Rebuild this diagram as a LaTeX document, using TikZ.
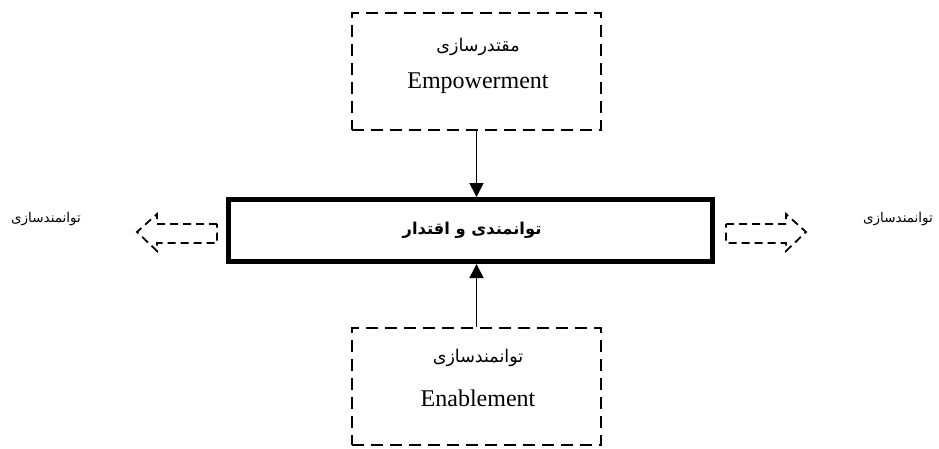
\documentclass[tikz,border=0pt]{standalone}
\usepackage{fontspec}
\setmainfont{Liberation Serif}
\newfontfamily\fa[Script=Arabic]{DejaVu Sans}
\TeXXeTstate=1
\usetikzlibrary{arrows.meta}
\begin{document}
\begin{tikzpicture}[x=1pt,y=-1pt,
  dbox/.style={draw, line width=2pt, dash pattern=on 12pt off 7pt, minimum width=249pt, minimum height=117pt, inner sep=0pt},
  mainbox/.style={draw, line width=5pt, minimum width=484pt, minimum height=62pt, inner sep=0pt},
  fatxt/.style={font=\fa\fontsize{17.5}{20}\selectfont, inner sep=0pt},
  sidetxt/.style={font=\fa\fontsize{13.5}{16}\selectfont, inner sep=0pt},
  entxt/.style={font=\fontsize{24}{28}\selectfont, inner sep=0pt},
  conn/.style={line width=1.6pt, -{Triangle[length=14pt,width=14pt]}},
  sarrow/.style={draw, line width=1.8pt, dash pattern=on 8pt off 5pt}
]
\useasboundingbox (0,0) rectangle (939,448);
\node[dbox] (top) at (476.5,71.5) {};
\node[dbox] (bot) at (476.5,386.5) {};
\node[mainbox] (main) at (470.5,230.5) {};
\node[font=\fa\bfseries\fontsize{16.3}{19}\selectfont, inner sep=0pt] (maintxt) at (472,230) {\beginR توانمندی و اقتدار\endR};
\node[fatxt] (t1) at (478,47) {\beginR مقتدرسازی\endR};
\node[entxt] (t2) at (478,83) {Empowerment};
\node[fatxt] (b1) at (478,358) {\beginR توانمندسازی\endR};
\node[entxt] (b2) at (478,398) {Enablement};
\node[sidetxt] (lt) at (46,219) {\beginR توانمندسازی\endR};
\node[sidetxt] (rt) at (898,219) {\beginR توانمندسازی\endR};
\draw[conn] (top.south) -- (top.south |- main.north);
\draw[conn] (bot.north) -- (bot.north |- main.south);
\draw[sarrow] (217,224) -- (157,224) -- (157,214) -- (137,232) -- (157,251) -- (157,243) -- (217,243) -- cycle;
\draw[sarrow] (726,224) -- (786,224) -- (786,214) -- (806,232) -- (786,251) -- (786,243) -- (726,243) -- cycle;
\end{tikzpicture}
\end{document}
